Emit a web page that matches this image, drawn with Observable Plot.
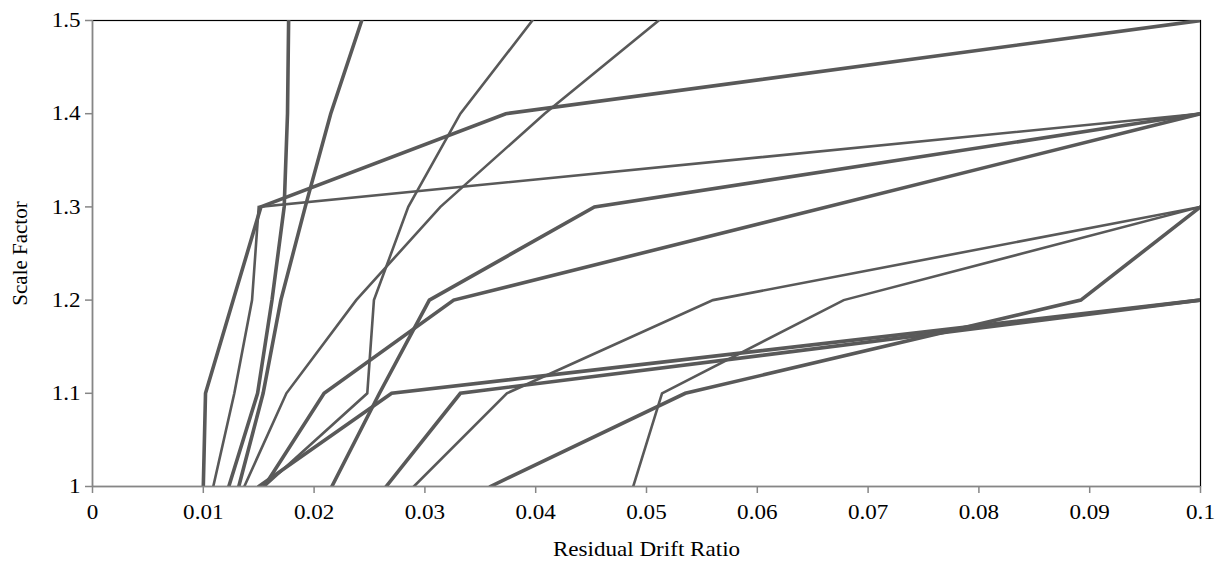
<!DOCTYPE html>
<html>
<head>
<meta charset="utf-8">
<script src="https://cdn.jsdelivr.net/npm/d3@7"></script>
<script src="https://cdn.jsdelivr.net/npm/@observablehq/plot@0.6"></script>
<style>
  html, body { margin: 0; padding: 0; background: #fff; }
  #chart svg { display: block; }
</style>
</head>
<body>
<div id="chart"></div>
<script>
// Residual drift ratio (x) at each scale factor (y) for each record
const seriesNames = ["A","B","R1","R2","R3","J","C","D","E","F","G","H","I"];
const xA  = [0.0100, 0.0102, 0.0127, 0.0152, 0.0373, 0.1];
const yA  = [1, 1.1, 1.2, 1.3, 1.4, 1.5];
const xB  = [0.0109, 0.0128, 0.0144, 0.0150, 0.1];
const yB  = [1, 1.1, 1.2, 1.3, 1.4];
const xR1 = [0.0123, 0.0149, 0.0162, 0.0173, 0.0176, 0.0177];
const yR1 = [1, 1.1, 1.2, 1.3, 1.4, 1.5];
const xR2 = [0.0132, 0.0154, 0.0170, 0.0192, 0.0215, 0.0243];
const yR2 = [1, 1.1, 1.2, 1.3, 1.4, 1.5];
const xR3 = [0.0137, 0.0175, 0.0238, 0.0314, 0.0408, 0.0511];
const yR3 = [1, 1.1, 1.2, 1.3, 1.4, 1.5];
const xJ  = [0.0155, 0.0248, 0.0254, 0.0285, 0.0332, 0.0397];
const yJ  = [1, 1.1, 1.2, 1.3, 1.4, 1.5];
const xC  = [0.0216, 0.0259, 0.0304, 0.0453, 0.1];
const yC  = [1, 1.1, 1.2, 1.3, 1.4];
const xD  = [0.0155, 0.0209, 0.0326, 0.1];
const yD  = [1, 1.1, 1.2, 1.4];
const xE  = [0.0150, 0.0270, 0.1];
const yE  = [1, 1.1, 1.2];
const xF  = [0.0265, 0.0332, 0.1];
const yF  = [1, 1.1, 1.2];
const xG  = [0.0290, 0.0374, 0.0560, 0.1];
const yG  = [1, 1.1, 1.2, 1.3];
const xH  = [0.0488, 0.0514, 0.0678, 0.1];
const yH  = [1, 1.1, 1.2, 1.3];
const xI  = [0.0359, 0.0535, 0.0892, 0.1];
const yI  = [1, 1.1, 1.2, 1.3];

const xTicks = [0, 0.01, 0.02, 0.03, 0.04, 0.05, 0.06, 0.07, 0.08, 0.09, 0.1];
const xTickLabels = ["0","0.01","0.02","0.03","0.04","0.05","0.06","0.07","0.08","0.09","0.1"];
const yTicks = [1, 1.1, 1.2, 1.3, 1.4, 1.5];
const yTickLabels = ["1","1.1","1.2","1.3","1.4","1.5"];

// styling (not data)
const thickSet = new Set(["A","R1","R2","C","D","E","F","I"]);

const xsBy = {A:xA,B:xB,R1:xR1,R2:xR2,R3:xR3,J:xJ,C:xC,D:xD,E:xE,F:xF,G:xG,H:xH,I:xI};
const ysBy = {A:yA,B:yB,R1:yR1,R2:yR2,R3:yR3,J:yJ,C:yC,D:yD,E:yE,F:yF,G:yG,H:yH,I:yI};

const rows = [];
for (const s of seriesNames) {
  xsBy[s].forEach((x, i) => rows.push({series: s, x, y: ysBy[s][i], thick: thickSet.has(s)}));
}

const font = "'Liberation Serif', 'Times New Roman', serif";
const gray = "#868686";
const lineColor = "#595959";

const chart = Plot.plot({
  width: 1227,
  height: 563,
  marginLeft: 92,
  marginRight: 27,
  marginTop: 20,
  marginBottom: 77,
  style: {fontFamily: font, fontSize: "21px", color: "#000", background: "#fff"},
  x: {domain: [0, 0.1]},
  y: {domain: [1, 1.5]},
  marks: [
    Plot.frame({stroke: "#000", strokeWidth: 1.2}),
    Plot.line(rows.filter(d => d.thick), {x: "x", y: "y", z: "series", stroke: lineColor, strokeWidth: 3.6, strokeLinejoin: "miter", strokeMiterlimit: 4, clip: true}),
    Plot.line(rows.filter(d => !d.thick), {x: "x", y: "y", z: "series", stroke: lineColor, strokeWidth: 2.6, strokeLinejoin: "miter", strokeMiterlimit: 4, clip: true}),
    Plot.ruleX([0], {stroke: gray, strokeWidth: 1.5}),
    Plot.ruleY([1], {stroke: gray, strokeWidth: 1.5}),
    Plot.axisX({
      ticks: xTicks,
      tickFormat: (d, i) => xTickLabels[i],
      tickSize: 7,
      tickPadding: 11,
      stroke: gray,
      strokeWidth: 1.5,
      label: "Residual Drift Ratio",
      labelAnchor: "center",
      labelArrow: "none",
      labelOffset: 69
    }),
    Plot.axisY({
      ticks: yTicks,
      tickFormat: (d, i) => yTickLabels[i],
      tickSize: 7,
      tickPadding: 5,
      stroke: gray,
      strokeWidth: 1.5,
      label: "Scale Factor",
      labelAnchor: "center",
      labelArrow: "none",
      labelOffset: 80
    })
  ]
});

// Slight horizontal widening of the (non-rotated) text, as in the reference
d3.select(chart).selectAll("text").each(function() {
  const t = this.getAttribute("transform") || "";
  if (/rotate/.test(t)) return;
  const x = parseFloat(this.getAttribute("x")) || 0;
  this.setAttribute("transform", `${t} translate(${x},0) scale(1.1,1) translate(${-x},0)`.trim());
});
document.getElementById("chart").appendChild(chart);
</script>
</body>
</html>
